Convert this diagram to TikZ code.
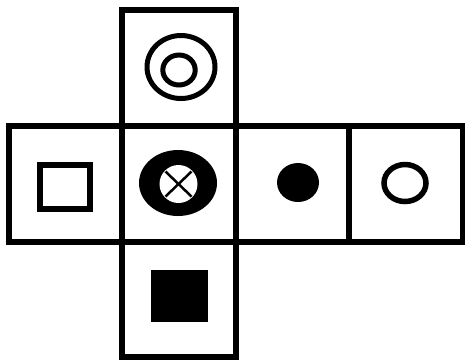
\documentclass[tikz,border=0pt]{standalone}
\usepackage{tikz}

\begin{document}
\begin{tikzpicture}[x=0.02cm,y=-0.02cm,line width=0.12cm]
  \useasboundingbox (0,0) rectangle (465,360);
  % faces of the net
  \draw (9,126) rectangle (463,242);
  \foreach \x in {122,236,349} {
    \draw (\x,126) -- (\x,242);
  }
  \draw (122,126) -- (122,10) -- (236,10) -- (236,126);
  \draw (122,242) -- (122,357) -- (236,357) -- (236,242);
  % top face
  \draw[line width=0.1cm] (181,67) ellipse (34 and 31.5);
  \draw[line width=0.1cm] (179,70) ellipse (16.2 and 15);
  % left face
  \draw[line width=0.11cm] (40,165) rectangle (90,209);
  % centre face
  \fill (178,183) ellipse (39 and 33);
  \fill[white] (178.5,184) circle (19);
  \draw[line width=0.05cm] (165.5,171.5) -- (191.5,196.5);
  \draw[line width=0.05cm] (191.5,171.5) -- (165.5,196.5);
  % right faces
  \fill (298,182.5) ellipse (21 and 19.5);
  \draw[line width=0.11cm] (405,183) ellipse (21 and 18.5);
  % bottom face
  \fill (151,270) rectangle (208,322);
\end{tikzpicture}
\end{document}
